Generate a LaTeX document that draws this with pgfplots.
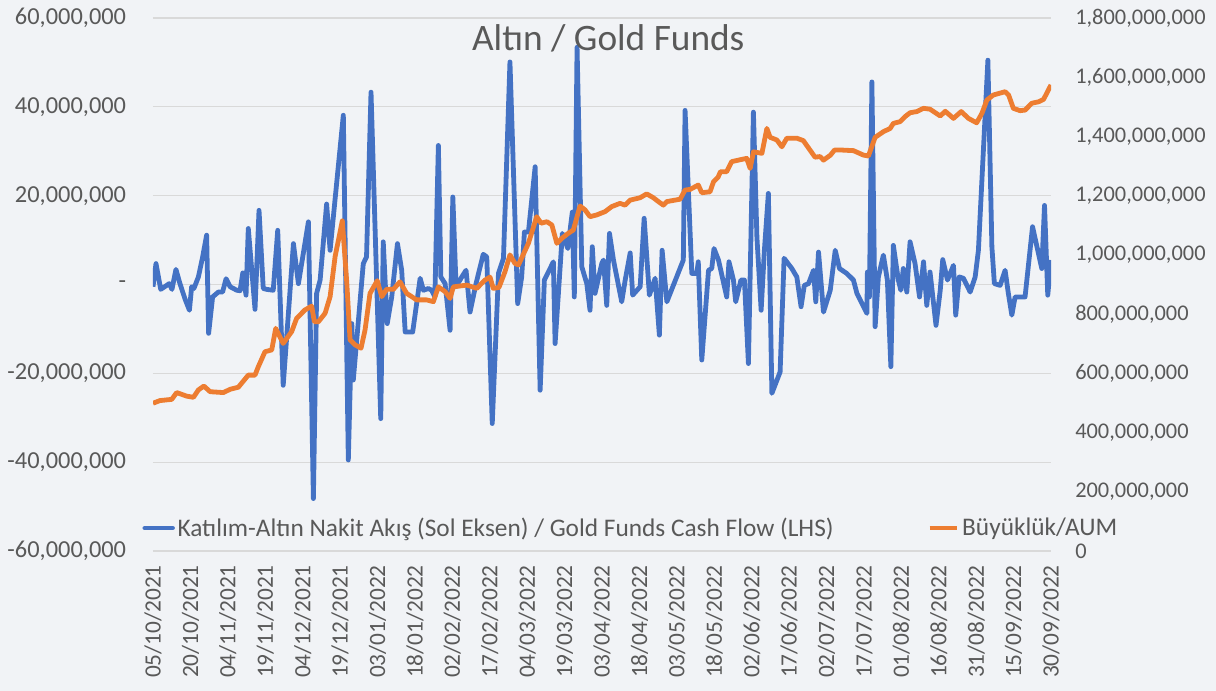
\documentclass[border=0pt]{standalone}
\usepackage{fontspec}
\setmainfont{Carlito}
\usepackage{pgfplots}
\pgfplotsset{compat=1.18}
\definecolor{bgc}{RGB}{241,243,246}
\definecolor{txt}{RGB}{89,89,89}
\definecolor{gridc}{RGB}{217,217,217}
\definecolor{cblue}{RGB}{68,114,196}
\definecolor{corange}{RGB}{237,125,49}
\begin{document}
\begin{tikzpicture}
\fill[bgc] (-114.75pt,-105pt) rectangle (797.25pt,413.25pt);
\useasboundingbox (-114.75pt,-105pt) rectangle (797.25pt,413.25pt);
\begin{axis}[
 at={(0,0)}, anchor=south west,
 scale only axis, width=673.5pt, height=399.75pt,
 xmin=0, xmax=360, ymin=-60, ymax=60,
 axis line style={draw=none},
 major tick length=0pt,
 xtick={0,15,...,360},
 xticklabels={05/10/2021,20/10/2021,04/11/2021,19/11/2021,04/12/2021,19/12/2021,03/01/2022,18/01/2022,02/02/2022,17/02/2022,04/03/2022,19/03/2022,03/04/2022,18/04/2022,03/05/2022,18/05/2022,02/06/2022,17/06/2022,02/07/2022,17/07/2022,01/08/2022,16/08/2022,31/08/2022,15/09/2022,30/09/2022},
 xticklabel style={rotate=90, anchor=east, inner sep=0pt, font=\fontsize{17.5}{19}\selectfont, text=txt},
 xticklabel shift=10.5pt,
 ytick={-60,-40,...,60},
 yticklabels={{-60,000,000},{-40,000,000},{-20,000,000},{-\hspace{9pt}},{20,000,000},{40,000,000},{60,000,000}},
 yticklabel style={anchor=east, inner sep=0pt, font=\fontsize{18.3}{20}\selectfont, text=txt},
 yticklabel shift=20pt,
 ymajorgrids, grid style={gridc, line width=0.9pt},
]
\addplot[cblue, line width=3.6pt, line join=round] coordinates {
(0,-0.5)(1.2,4.7)(3.1,-1.1)(5.5,-0.2)(6.5,0.2)(7.6,-1.1)(9.2,3.4)(10.8,0.2)(12.8,-3.2)(14.6,-5.8)(15.5,-0.5)(16.4,-0.9)(18.2,1.7)(19.9,6.2)(21.5,11.1)(22.3,-11.0)(23.9,-2.8)(26.2,-1.7)(27.9,-1.7)(29.3,1.3)(30.9,-0.5)(33.6,-1.3)(34.9,-1.4)(36.0,2.6)(37.3,-2.4)(38.2,12.6)(39.6,3.2)(40.9,-5.6)(42.5,16.7)(44.2,-0.9)(45.6,-1.1)(48.2,-1.3)(50.0,12.2)(52.2,-22.7)(56.3,9.2)(58.3,0.2)(62.3,14.1)(64.3,-48.2)(65.6,-2.0)(67.0,1.0)(69.6,18.1)(71.0,7.7)(72.7,17.5)(76.3,38.1)(78.3,-39.5)(79.7,-8.8)(80.3,-21.5)(84.3,4.7)(85.6,6.2)(87.4,43.3)(91.3,-30.2)(92.3,9.6)(93.9,-8.8)(95.7,-2.8)(98.0,9.2)(99.7,3.2)(101.1,-10.7)(104.1,-10.7)(107.1,1.4)(108.4,-1.3)(110.4,-0.9)(111.7,-1.3)(113.0,-2.8)(114.4,31.3)(115.4,1.7)(117.1,0.2)(119.1,-10.3)(120.2,19.7)(121.5,-0.5)(123.8,1.7)(125.5,3.2)(127.1,-6.2)(129.5,0.2)(132.4,6.8)(133.8,6.2)(136.0,-31.3)(138.5,2.5)(140.5,5.9)(143.1,50.1)(146.2,-4.3)(147.8,1.7)(148.9,11.8)(150.5,11.8)(153.2,26.5)(155.2,-23.8)(156.9,1.0)(160.5,5.1)(161.2,-13.3)(164.1,11.5)(166.3,8.1)(168.1,16.3)(168.9,-2.8)(170.0,53.4)(171.9,4.0)(173.9,0.2)(175.2,-5.8)(176.1,8.5)(177.2,-2.0)(179.9,4.7)(180.6,5.5)(181.9,-4.7)(183.0,11.5)(184.6,5.5)(187.9,-3.9)(189.3,1.0)(191.3,7.1)(192.3,-2.4)(195.3,-0.5)(196.9,14.9)(199.0,-2.4)(201.3,1.4)(203.0,-11.4)(204.1,7.7)(206.0,-3.9)(212.6,5.5)(213.3,39.2)(216.0,2.5)(218.0,2.5)(218.6,5.1)(220.0,-17.0)(222.7,3.2)(224.0,3.6)(224.9,8.1)(226.7,5.5)(230.0,-2.8)(230.9,5.1)(232.7,1.0)(233.6,-3.9)(235.7,1.0)(237.1,1.0)(238.7,-17.8)(240.7,38.8)(242.1,10.7)(243.8,-5.8)(245.1,7.7)(246.7,20.5)(248.1,-24.5)(251.4,-19.7)(253.0,5.9)(256.1,3.6)(258.1,1.7)(259.8,-5.0)(261.1,-0.2)(262.8,0.2)(264.8,3.2)(265.7,-3.9)(266.8,7.3)(268.8,-6.2)(271.5,-1.3)(273.5,7.7)(275.2,3.6)(278.1,2.5)(280.8,1.0)(282.2,-2.0)(286.2,-6.5)(286.4,2.8)(287.2,-2.8)(288.2,45.6)(289.5,-9.5)(290.8,1.7)(292.8,6.6)(294.4,1.0)(295.8,-18.5)(296.8,8.8)(298.8,1.0)(299.8,-1.3)(300.8,3.6)(302.2,-1.7)(303.5,9.6)(305.5,4.7)(307.3,-2.8)(308.9,5.1)(310.2,-4.7)(311.5,2.8)(313.9,-9.2)(315.6,-1.3)(316.6,5.6)(318.5,1.0)(320.9,4.3)(321.8,-6.9)(323.2,1.7)(324.9,1.4)(327.6,-1.7)(329.6,1.7)(330.9,7.7)(334.7,50.5)(336.3,8.5)(337.3,0.2)(339.6,-0.2)(341.6,3.2)(342.9,-2.0)(344.3,-6.9)(345.6,-2.8)(349.6,-2.8)(352.6,13.0)(356.3,3.6)(357.4,17.8)(358.7,-2.4)(360,5.5)
};
\end{axis}
\begin{axis}[
 at={(0,0)}, anchor=south west,
 scale only axis, width=673.5pt, height=399.75pt,
 xmin=0, xmax=360, ymin=0, ymax=1800,
 axis line style={draw=none},
 major tick length=0pt,
 xtick=\empty,
 axis y line*=right,
 ytick={0,200,...,1800},
 yticklabels={0,{200,000,000},{400,000,000},{600,000,000},{800,000,000},{1,000,000,000},{1,200,000,000},{1,400,000,000},{1,600,000,000},{1,800,000,000}},
 yticklabel style={anchor=west, inner sep=0pt, font=\fontsize{16.8}{19}\selectfont, text=txt},
 yticklabel shift=18pt,
 legend columns=2,
 legend cell align=left,
 legend image code/.code={\draw[#1] (1.8pt,0pt) -- (22.5pt,0pt);},
 legend style={at={(-0.012,0.043)}, anchor=west, draw=none, fill=none, text=txt,
   font=\fontsize{19}{22}\selectfont, inner sep=0pt,
   /tikz/every even column/.append style={column sep=68pt}},
]
\addlegendimage{cblue, line width=3.6pt, line cap=round}
\addlegendentry{Katılım-Altın Nakit Akış (Sol Eksen) / Gold Funds Cash Flow (LHS)}
\addplot[corange, line width=3.6pt, line join=round] coordinates {
(0,499)(2.8,508)(7.5,512)(9.5,535)(13.5,523)(16.2,519)(18.2,544)(20.4,557)(22.9,538)(28.2,535)(30.9,546)(34.2,553)(38.2,594)(40.9,594)(42.2,622)(44.9,673)(47.6,679)(49.2,752)(52.2,701)(55.6,741)(57.6,786)(60.9,814)(63.6,827)(64.7,774)(66.3,774)(69.0,803)(71.0,859)(73.0,994)(75.9,1115)(77.7,904)(79.0,713)(81.0,696)(83.4,685)(85.0,746)(87.0,870)(89.9,913)(91.7,859)(93.7,884)(96.4,884)(99.0,909)(101.7,870)(105.7,848)(109.7,848)(112.4,842)(114.4,892)(117.1,876)(119.1,853)(120.4,892)(125.8,898)(129.8,887)(133.1,915)(135.1,925)(136.4,887)(138.7,890)(141.1,943)(143.1,1000)(145.1,971)(146.5,966)(150.5,1039)(153.8,1129)(155.6,1107)(157.9,1112)(159.9,1101)(161.9,1039)(163.9,1056)(166.5,1073)(168.5,1084)(171.2,1165)(173.2,1152)(175.2,1129)(177.9,1135)(181.2,1146)(183.9,1163)(187.2,1174)(189.3,1168)(191.3,1185)(195.3,1193)(197.9,1206)(200.6,1193)(202.6,1180)(204.6,1168)(206.0,1180)(211.3,1188)(213.3,1219)(215.3,1221)(218.6,1236)(220.0,1210)(223.3,1213)(224.7,1247)(226.5,1262)(227.5,1281)(230.0,1281)(232.0,1315)(234.7,1320)(238.0,1326)(239.4,1292)(240.7,1348)(244.1,1343)(246.1,1427)(247.4,1397)(250.1,1388)(252.1,1365)(254.1,1394)(258.1,1394)(260.7,1386)(265.4,1330)(267.4,1332)(268.8,1320)(271.6,1337)(273.2,1354)(276.1,1354)(280.8,1352)(284.8,1337)(286.8,1334)(289.5,1397)(292.8,1416)(295.5,1427)(296.8,1444)(299.5,1450)(301.5,1467)(303.5,1480)(306.2,1484)(308.9,1495)(311.5,1492)(315.6,1469)(317.6,1485)(320.9,1461)(324.0,1484)(326.9,1461)(330.2,1446)(332.3,1478)(334.3,1523)(336.9,1540)(341.6,1551)(343.0,1540)(344.9,1495)(347.6,1487)(349.6,1489)(352.3,1512)(355.0,1517)(357.0,1525)(358.3,1546)(360,1574)
};
\addlegendentry{Büyüklük/AUM}
\node[text=txt, font=\fontsize{28}{32}\selectfont] at (rel axis cs:0.507,0.9625) {Altın / Gold Funds};
\end{axis}
\end{tikzpicture}
\end{document}
